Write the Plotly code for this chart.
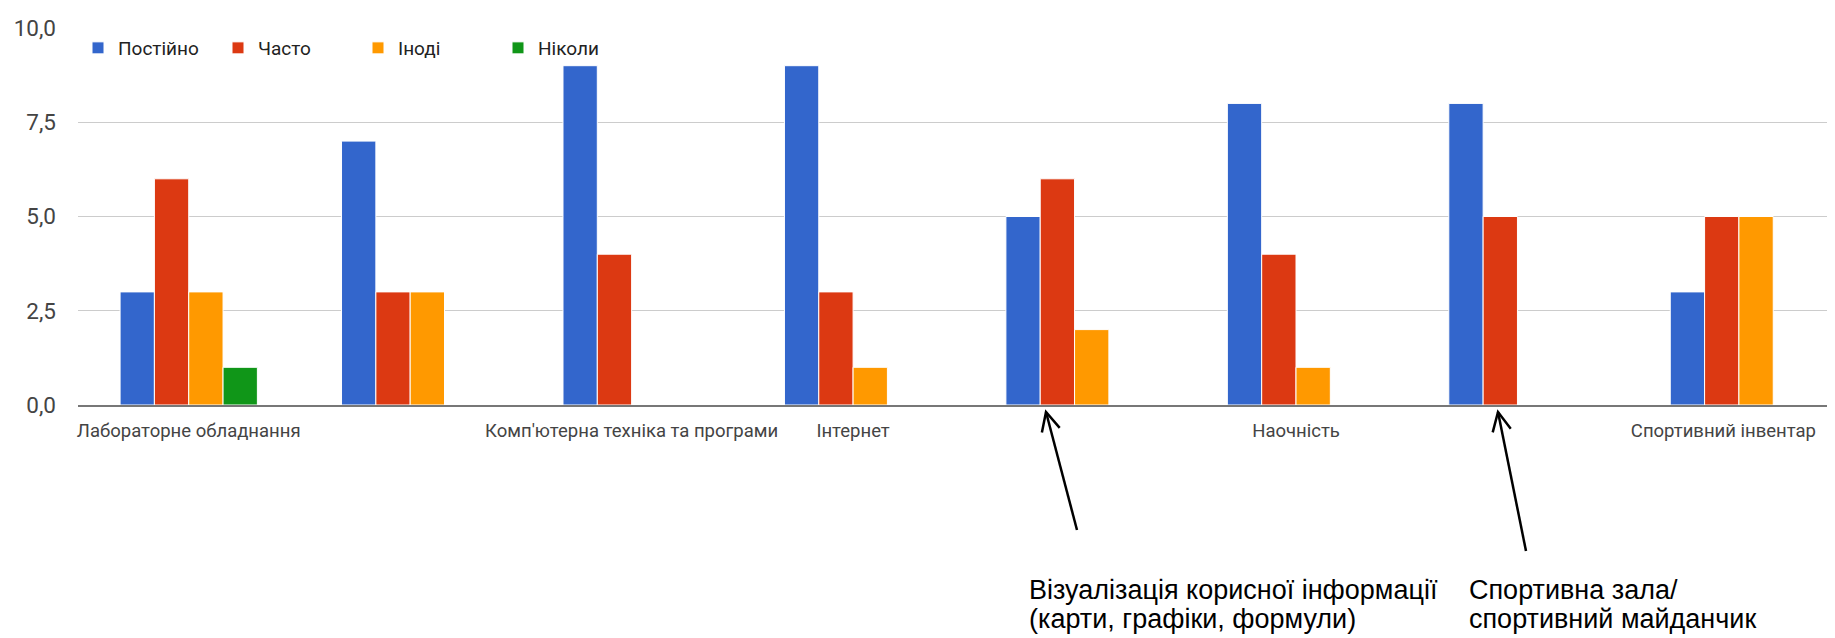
import math
import plotly.graph_objects as go

# ---- data ----
categories = [
    "Лабораторне обладнання",
    "",
    "Комп'ютерна техніка та програми",
    "Інтернет",
    "",
    "Наочність",
    "",
    "Спортивний інвентар",
]
series_names = ["Постійно", "Часто", "Іноді", "Ніколи"]
postiino = [3, 7, 9, 9, 5, 8, 8, 3]
chasto = [6, 3, 4, 3, 6, 4, 5, 5]
inodi = [3, 3, 0, 1, 2, 1, 0, 5]
nikoly = [1, 0, 0, 0, 0, 0, 0, 0]
y_ticks = [0, 2.5, 5, 7.5, 10]
note_visual = ["Візуалізація корисної інформації", "(карти, графіки, формули)"]
note_sport = ["Спортивна зала/", "спортивний майданчик"]

colors = ["#3366CC", "#DC3912", "#FF9900", "#109618"]
values = [postiino, chasto, inodi, nikoly]

W, H = 1835, 638
L, R, T, B = 70, 0, 20, 241
pw, ph = W - L - R, H - T - B


def px(xpix):
    return (xpix - L) / pw


def py(ypix):
    return (H - B - ypix) / ph


x_idx = list(range(len(categories)))
# keep the last label inside the chart edge (as the original renderer does)
label_pos = [float(i) for i in x_idx]
label_pos[-1] -= 0.07

fig = go.Figure()
for name, vals, col in zip(series_names, values, colors):
    fig.add_trace(go.Bar(
        x=x_idx, y=vals, name=name,
        marker=dict(color=col, line=dict(color="white", width=1)),
    ))

fig.update_layout(
    width=W, height=H,
    margin=dict(l=L, r=R, t=T, b=B, autoexpand=False),
    paper_bgcolor="white", plot_bgcolor="white",
    barmode="group", bargap=0.38, bargroupgap=0.0,
    separators=", ",
    font=dict(family="Roboto, Arial, sans-serif", color="#444"),
    legend=dict(
        orientation="h", x=0.0, y=py(40), xanchor="left", yanchor="middle",
        font=dict(size=19, color="#222"), bgcolor="rgba(0,0,0,0)",
        itemwidth=30, entrywidth=95, entrywidthmode="pixels",
    ),
    showlegend=True,
)
fig.update_xaxes(
    range=[-0.5, 7.47], tickmode="array", tickvals=label_pos, ticktext=categories,
    showgrid=False, ticks="", tickfont=dict(size=18.5, color="#444"),
    ticklabelstandoff=8, zeroline=False,
    showline=True, linecolor="#777777", linewidth=2, layer="above traces",
)
fig.update_yaxes(
    range=[0, 10], tickmode="array", tickvals=y_ticks, tickformat=".1f",
    showgrid=True, gridcolor="#cccccc", gridwidth=1,
    zeroline=False, ticks="", tickfont=dict(size=22.5, color="#444"),
    ticklabelstandoff=21, showline=False,
)

# arrows drawn as shapes (shaft + open V head)
arrows = [((1038, 404), (1069, 522)), ((1490, 404), (1518, 543))]
head_len, head_ang = 21, math.radians(26)
for (tx, ty), (sx, sy) in arrows:
    fig.add_shape(type="line", xref="paper", yref="paper",
                  x0=px(sx), y0=py(sy), x1=px(tx), y1=py(ty),
                  line=dict(color="black", width=2.5))
    ang = math.atan2(sy - ty, sx - tx)
    w1 = (tx + head_len * math.cos(ang + head_ang), ty + head_len * math.sin(ang + head_ang))
    w2 = (tx + head_len * math.cos(ang - head_ang), ty + head_len * math.sin(ang - head_ang))
    path = "M {} {} L {} {} L {} {}".format(px(w1[0]), py(w1[1]), px(tx), py(ty), px(w2[0]), py(w2[1]))
    fig.add_shape(type="path", xref="paper", yref="paper", path=path,
                  line=dict(color="black", width=2.5))

# notes
for lines, lx in [(note_visual, 1019), (note_sport, 1459)]:
    for line, ly in zip(lines, [582, 611]):
        fig.add_annotation(
            x=px(lx), y=py(ly), xref="paper", yref="paper",
            xanchor="left", yanchor="middle", align="left",
            text=line, showarrow=False,
            font=dict(family="Liberation Sans, Arial, sans-serif", size=27, color="black"),
        )

fig.write_html("out.html")
